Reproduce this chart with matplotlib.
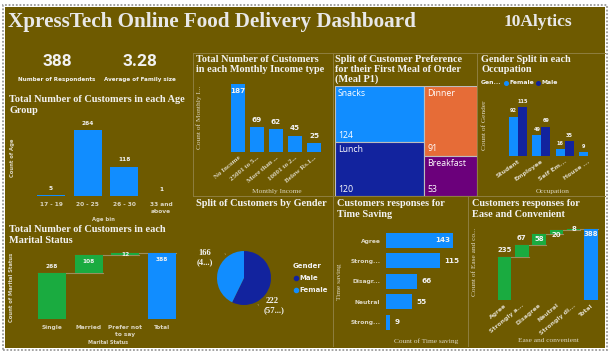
import matplotlib
matplotlib.use("Agg")
import matplotlib.pyplot as plt
from matplotlib.patches import Rectangle
from matplotlib.lines import Line2D
import numpy as np

# ---- data ----
kpi_respondents = "388"
kpi_family = "3.28"

age_bins = ["17 - 19", "20 - 25", "26 - 30", "33 and\nabove"]
age_counts = [5, 264, 118, 1]

income_types = ["No Income", "25001 to 5...", "More than ...", "10001 to 2...", "Below Rs.1..."]
income_counts = [187, 69, 62, 45, 25]

meal_names = ["Snacks", "Lunch", "Dinner", "Breakfast"]
meal_counts = [124, 120, 91, 53]

occupations = ["Student", "Employee", "Self Em...", "House ..."]
occ_female = [92, 49, 16, 9]
occ_male = [115, 69, 35, 0]

marital = ["Single", "Married", "Prefer not\nto say"]
marital_counts = [268, 108, 12]

gender = ["Male", "Female"]
gender_counts = [222, 166]
gender_pct = ["(57...)", "(4...)"]

time_resp = ["Agree", "Strong...", "Disagr...", "Neutral", "Strong..."]
time_counts = [143, 115, 66, 55, 9]

ease_resp = ["Agree", "Strongly a...", "Disagree", "Neutral", "Strongly di..."]
ease_counts = [235, 67, 58, 20, 8]

# ---- style ----
W, H = 614, 356
BG = "#6E5A00"
BLUE = "#118DFF"
NAVY = "#12239E"
ORANGE = "#E66C37"
PURPLE = "#6B007B"
GREEN = "#1AAB40"
TXT = "#F2F2F2"
SUB = "#DCD6C2"
LINE = "#8F7F3F"
CONN = "#9A8E5E"
SERIF = "Liberation Serif"
SANS = "DejaVu Sans"

fig = plt.figure(figsize=(W / 100, H / 100), dpi=100)
fig.patch.set_facecolor("white")


def fx(x):
    return x / W


def fy(y):
    return 1 - y / H


def box(x0, y0, x1, y1):
    return [x0 / W, 1 - y1 / H, (x1 - x0) / W, (y1 - y0) / H]


def txt(x, y, s, **kw):
    kw.setdefault("color", TXT)
    kw.setdefault("va", "center")
    return fig.text(fx(x), fy(y), s, **kw)


def hline(y, x0, x1):
    fig.add_artist(Line2D([fx(x0), fx(x1)], [fy(y), fy(y)], transform=fig.transFigure, color=LINE, lw=0.7))


def vline(x, y0, y1):
    fig.add_artist(Line2D([fx(x), fx(x)], [fy(y0), fy(y1)], transform=fig.transFigure, color=LINE, lw=0.7))


def new_ax(x0, y0, x1, y1):
    ax = fig.add_axes(box(x0, y0, x1, y1))
    ax.set_facecolor("none")
    for s in ax.spines.values():
        s.set_visible(False)
    ax.set_yticks([])
    ax.tick_params(length=0)
    return ax


def title(x, y, lines):
    for i, line in enumerate(lines):
        txt(x, y + i * 10.3, line, family=SERIF, weight="bold", fontsize=7.4)


def vlabel(ax, xi, v, where, size=4.4, pad=3):
    if where == "out":
        ax.annotate(str(v), (xi, v), xytext=(0, pad), textcoords="offset points",
                    ha="center", va="bottom", color=TXT, fontsize=size, weight="bold", family=SANS)
    elif where == "in":
        ax.annotate(str(v), (xi, v), xytext=(0, -pad), textcoords="offset points",
                    ha="center", va="top", color=TXT, fontsize=size, weight="bold", family=SANS)
    else:
        ax.annotate(str(v), (xi, v), ha="center", va="center",
                    color=TXT, fontsize=size, weight="bold", family=SANS)


# background panel and dotted frame
fig.patches.append(Rectangle((fx(5), fy(348)), 600 / W, 341 / H, transform=fig.transFigure,
                             facecolor=BG, edgecolor="none", zorder=-10))
fig.patches.append(Rectangle((fx(2.5), fy(350)), 604.5 / W, 345 / H, transform=fig.transFigure,
                             fill=False, edgecolor="#9A9A9A", linestyle=(0, (1, 1)), lw=1.3, zorder=-9))

# divider lines
hline(53, 193, 605)
hline(196, 193, 605)
vline(193, 53, 196)
vline(333, 53, 196)
vline(477, 53, 196)
vline(333, 196, 346)
vline(468, 196, 346)

# header
txt(8, 22, "XpressTech Online Food Delivery Dashboard", family=SERIF, weight="bold", fontsize=15.2, color="#E8E8E8")
txt(572, 22, "10Alytics", family=SERIF, weight="bold", fontsize=12.5, color="#E8E8E8", ha="right")

# KPI cards
txt(57, 62, kpi_respondents, family="Roboto", weight="bold", fontsize=12.5, ha="center")
txt(57, 79, "Number of Respondents", family=SANS, weight="bold", fontsize=4.1, ha="center")
txt(140, 62, kpi_family, family="Roboto", weight="bold", fontsize=12.5, ha="center")
txt(140, 79, "Average of Family size", family=SANS, weight="bold", fontsize=4.1, ha="center")

# ---- age groups ----
title(9, 100, ["Total Number of Customers in each Age", "Group"])
ax = new_ax(32.7, 121, 179.3, 196)
xa = np.arange(len(age_bins))
ax.bar(xa, age_counts, width=0.77, color=BLUE)
ax.set_xlim(-0.5, len(age_bins) - 0.5)
ax.set_ylim(0, 300)
for xi, v in zip(xa, age_counts):
    vlabel(ax, xi, v, "out", size=4.2)
ax.set_xticks(xa, age_bins, fontsize=4.2, weight="bold", color=SUB, family=SANS, linespacing=1.5)
ax.tick_params(axis="x", pad=4)
txt(13, 158, "Count of Age", family=SANS, weight="bold", fontsize=3.8, color=SUB, rotation=90, ha="center")
txt(103, 219, "Age bin", family=SANS, weight="bold", fontsize=3.8, color=SUB, ha="center")

# ---- monthly income ----
title(196, 59, ["Total Number of Customers", "in each Monthly Income type"])
ax = new_ax(228.5, 75.6, 323.5, 152)
xi_ = np.arange(len(income_types))
ax.bar(xi_, income_counts, width=0.74, color=BLUE)
ax.set_xlim(-0.5, len(income_types) - 0.5)
ax.set_ylim(0, 210)
for i, v in zip(xi_, income_counts):
    vlabel(ax, i, v, "in" if i == 0 else "out", size=5.2, pad=3)
ax.set_xticks(xi_, income_types, fontsize=5, weight="bold", color=SUB, family=SERIF,
              rotation=40, ha="right", rotation_mode="anchor")
ax.tick_params(axis="x", pad=2)
txt(199, 117, "Count of Monthly I...", family=SERIF, fontsize=5.3, color=SUB, rotation=90, ha="center")
txt(277, 192, "Monthly Income", family=SERIF, fontsize=5.3, color=SUB, ha="center")

# ---- treemap of first meal ----
title(335, 59, ["Split of Customer Preference", "for their First Meal of Order", "(Meal P1)"])
ax = new_ax(335, 86, 477, 196)
ax.set_xticks([])
ax.set_xlim(0, 1)
ax.set_ylim(1, 0)
total_meal = sum(meal_counts)
left_w = (meal_counts[0] + meal_counts[1]) / total_meal
left_top = meal_counts[0] / (meal_counts[0] + meal_counts[1])
right_top = meal_counts[2] / (meal_counts[2] + meal_counts[3])
rects = [
    (0, 0, left_w, left_top),
    (0, left_top, left_w, 1 - left_top),
    (left_w, 0, 1 - left_w, right_top),
    (left_w, right_top, 1 - left_w, 1 - right_top),
]
for (x0, y0, w, h), name, v, c in zip(rects, meal_names, meal_counts, [BLUE, NAVY, ORANGE, PURPLE]):
    ax.add_patch(Rectangle((x0, y0), w, h, facecolor=c, edgecolor="#BDBDBD", lw=0.8))
    ax.annotate(name, (x0, y0), xytext=(2, -2.5), textcoords="offset points", ha="left", va="top",
                color="white", fontsize=6.3, family="Open Sans")
    ax.annotate(str(v), (x0, y0 + h), xytext=(2, 1.5), textcoords="offset points", ha="left", va="bottom",
                color="white", fontsize=6.3, family="Open Sans")

# ---- gender by occupation ----
title(481, 59, ["Gender Split in each", "Occupation"])
txt(481, 83, "Gen...", family=SANS, weight="bold", fontsize=4.4)
fig.add_artist(Line2D([fx(506)], [fy(83)], marker="o", ms=2.6, color=BLUE, transform=fig.transFigure))
txt(509, 83, "Female", family=SANS, weight="bold", fontsize=4.4)
fig.add_artist(Line2D([fx(538)], [fy(83)], marker="o", ms=2.6, color=NAVY, transform=fig.transFigure))
txt(541, 83, "Male", family=SANS, weight="bold", fontsize=4.4)
ax = new_ax(506.3, 100.6, 599.7, 156)
xo = np.arange(len(occupations))
bw = 0.385
ax.bar(xo - bw / 2, occ_female, width=bw, color=BLUE)
ax.bar(xo + bw / 2, occ_male, width=bw, color=NAVY)
ax.set_xlim(-0.5, len(occupations) - 0.5)
ax.set_ylim(0, 130)
for i in xo:
    if occ_female[i]:
        vlabel(ax, i - bw / 2, occ_female[i], "out", size=3.6, pad=2.5)
    if occ_male[i]:
        vlabel(ax, i + bw / 2, occ_male[i], "out", size=3.6, pad=2.5)
ax.set_xticks(xo, occupations, fontsize=4.4, weight="bold", color=SUB, family=SANS,
              rotation=35, ha="right", rotation_mode="anchor")
ax.tick_params(axis="x", pad=2)
txt(484, 125, "Count of Gender", family=SERIF, fontsize=5.3, color=SUB, rotation=90, ha="center")
txt(553, 192, "Occupation", family=SERIF, fontsize=5.3, color=SUB, ha="center")

# ---- marital status waterfall ----
title(9, 230, ["Total Number of Customers in each", "Marital Status"])
ax = new_ax(33.7, 247.6, 180.3, 319)
cum = np.concatenate([[0], np.cumsum(marital_counts)])
m_labels = marital + ["Total"]
m_heights = list(marital_counts) + [cum[-1]]
m_bottoms = list(cum[:-1]) + [0]
m_colors = [GREEN] * len(marital) + [BLUE]
xm = np.arange(len(m_labels))
ax.bar(xm, m_heights, bottom=m_bottoms, width=0.77, color=m_colors, zorder=2)
for i in range(len(m_labels) - 1):
    ax.plot([i - 0.385, i + 1 + 0.385], [cum[i + 1]] * 2, color=CONN, lw=0.8, zorder=1)
ax.set_xlim(-0.5, len(m_labels) - 0.5)
ax.set_ylim(0, 420)
for i, where in zip(xm, ["out", "in", "mid", "in"]):
    top = m_bottoms[i] + m_heights[i]
    y = top if where != "mid" else m_bottoms[i] + m_heights[i] / 2
    ax.annotate(str(m_heights[i]), (i, y), xytext=(0, {"out": 3, "in": -2.5, "mid": 0}[where]),
                textcoords="offset points", ha="center",
                va={"out": "bottom", "in": "top", "mid": "center"}[where],
                color=TXT, fontsize=4.2, weight="bold", family=SANS, zorder=3)
ax.set_xticks(xm, m_labels, fontsize=4.2, weight="bold", color=SUB, family=SANS, linespacing=1.5)
ax.tick_params(axis="x", pad=4)
txt(12, 287, "Count of Marital Status", family=SANS, weight="bold", fontsize=3.8, color=SUB,
    rotation=90, ha="center")
txt(108, 343, "Marital Status", family=SANS, weight="bold", fontsize=3.6, color=SUB, ha="center")

# ---- gender pie ----
title(196, 204, ["Split of Customers by Gender"])
pcx, pcy, pr = 244, 278, 27
ax = fig.add_axes(box(pcx - pr, pcy - pr, pcx + pr, pcy + pr))
ax.pie(gender_counts, colors=[NAVY, BLUE], startangle=90, counterclock=False, radius=1,
       wedgeprops=dict(lw=0))
ax.set_xlim(-1, 1)
ax.set_ylim(-1, 1)
ax.axis("off")
# leader lines
for ang in (128, -62):
    ex, ey = np.cos(np.radians(ang)), np.sin(np.radians(ang))
    ax.annotate("", xy=(ex, ey), xytext=(ex * 1.25, ey * 1.25),
                arrowprops=dict(arrowstyle="-", color="#A09050", lw=0.6))
txt(205, 253, str(gender_counts[1]), family=SERIF, weight="bold", fontsize=6.2, ha="center")
txt(205, 262, gender_pct[1], family=SERIF, weight="bold", fontsize=6.2, ha="center")
txt(272, 301, str(gender_counts[0]), family=SERIF, weight="bold", fontsize=6.2, ha="center")
txt(274, 310, gender_pct[0], family=SERIF, weight="bold", fontsize=6.2, ha="center")
txt(293, 266, "Gender", family=SANS, weight="bold", fontsize=5)
for k, (name, c) in enumerate(zip(gender, [NAVY, BLUE])):
    fig.add_artist(Line2D([fx(296)], [fy(278 + 12 * k)], marker="o", ms=3, color=c, transform=fig.transFigure))
    txt(299, 278 + 12 * k, name, family=SANS, weight="bold", fontsize=5)

# ---- time saving ----
title(337, 204, ["Customers responses for", "Time Saving"])
ax = new_ax(386, 230.3, 461, 332.3)
yt = np.arange(len(time_resp))
ax.barh(yt, time_counts, height=0.73, color=BLUE)
ax.set_xlim(0, 160)
ax.set_ylim(len(time_resp) - 0.5, -0.5)
for i, v in zip(yt, time_counts):
    if i == 0:
        ax.annotate(str(v), (v, i), xytext=(-2, 0), textcoords="offset points", ha="right", va="center",
                    color=TXT, fontsize=5.2, weight="bold", family=SANS)
    else:
        ax.annotate(str(v), (v, i), xytext=(3, 0), textcoords="offset points", ha="left", va="center",
                    color=TXT, fontsize=5.2, weight="bold", family=SANS)
ax.set_xticks([])
ax.set_yticks(yt, time_resp, fontsize=4.3, weight="bold", color=SUB, family=SANS)
ax.tick_params(axis="y", pad=4)
txt(340, 282, "Time saving", family=SERIF, fontsize=5.3, color=SUB, rotation=90, ha="center")
txt(426, 341, "Count of Time saving", family=SERIF, fontsize=5.3, color=SUB, ha="center")

# ---- ease and convenience waterfall ----
title(472, 204, ["Customers responses for", "Ease and Convenient"])
ax = new_ax(495.85, 223, 599.65, 300)
ecum = np.concatenate([[0], np.cumsum(ease_counts)])
e_labels = ease_resp + ["Total"]
e_heights = list(ease_counts) + [ecum[-1]]
e_bottoms = list(ecum[:-1]) + [0]
e_colors = [GREEN] * len(ease_resp) + [BLUE]
xe = np.arange(len(e_labels))
ax.bar(xe, e_heights, bottom=e_bottoms, width=0.78, color=e_colors, zorder=2)
for i in range(len(e_labels) - 1):
    ax.plot([i - 0.39, i + 1 + 0.39], [ecum[i + 1]] * 2, color=CONN, lw=0.8, zorder=1)
ax.set_xlim(-0.5, len(e_labels) - 0.5)
ax.set_ylim(0, 420)
offsets = {"out": (2.5, "bottom"), "in": (-1.5, "top"), "mid": (0, "center")}
for i, where in zip(xe, ["out", "out", "in", "in", "mid", "in"]):
    top = e_bottoms[i] + e_heights[i]
    dy, va = offsets[where]
    ax.annotate(str(e_heights[i]), (i, top), xytext=(0, dy),
                textcoords="offset points", ha="center", va=va,
                color=TXT, fontsize=5.0, weight="bold", family=SANS, zorder=3)
ax.set_xticks(xe, e_labels, fontsize=4.4, weight="bold", color=SUB, family=SANS,
              rotation=40, ha="right", rotation_mode="anchor")
ax.tick_params(axis="x", pad=2)
txt(475, 262, "Count of Ease and co...", family=SERIF, fontsize=5.3, color=SUB, rotation=90, ha="center")
txt(548, 341, "Ease and convenient", family=SERIF, fontsize=5.3, color=SUB, ha="center")

fig.savefig("out.png", dpi=100, facecolor=fig.get_facecolor())
